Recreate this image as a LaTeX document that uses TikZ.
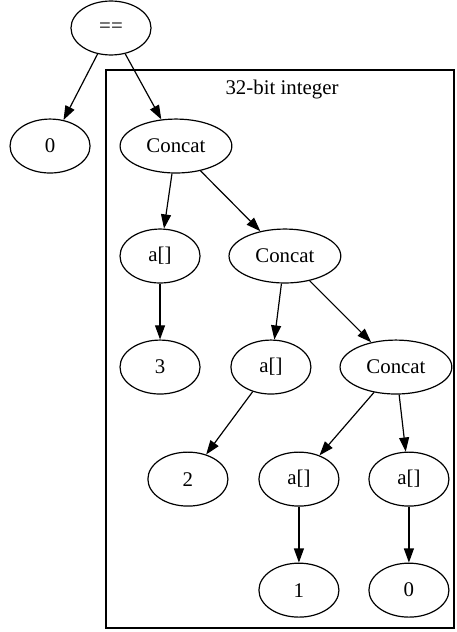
\documentclass[tikz,border=0pt]{standalone}
\usepackage{fontspec}
\setmainfont{Liberation Serif}
\usetikzlibrary{arrows.meta,positioning,shapes.geometric}

\begin{document}
\begin{tikzpicture}[x=0.671pt, y=-0.671pt, on grid, line width=0.8pt,
    >={Triangle[length=9.5pt,width=6.7pt]},
    font=\fontsize{14}{16}\selectfont,
    term/.style={ellipse, draw, minimum width=53.7pt, minimum height=36.2pt, inner sep=0pt},
    concat/.style={term, minimum width=75pt}]
  \useasboundingbox (0,0) rectangle (456,632);

  % cluster
  \draw (106,70) rectangle (454,628);
  \node[anchor=base] (lbl) at (282,94) {32-bit integer};

  \node[term]   (eq)    at (111,28)                              {==};
  \node[term]   (zl)    [below left=79.2pt and 40.9pt of eq]     {0};
  \node[concat] (cat1)  [below right=79.2pt and 43.6pt of eq]    {Concat};
  \node[term]   (a1)    [below left=73.8pt and 10.7pt of cat1]   {a[]};
  \node[concat] (cat2)  [below right=73.8pt and 73.1pt of cat1]  {Concat};
  \node[term]   (three) [below=74.5pt of a1]                     {3};
  \node[term]   (a2)    [below left=74.5pt and 9.4pt of cat2]    {a[]};
  \node[concat] (cat3)  [below right=74.5pt and 74.5pt of cat2]  {Concat};
  \node[term]   (two)   [below left=75.2pt and 55.7pt of a2]     {2};
  \node[term]   (a3)    [below left=75.2pt and 65.1pt of cat3]   {a[]};
  \node[term]   (a4)    [below right=75.2pt and 8.7pt of cat3]   {a[]};
  \node[term]   (one)   [below=74.5pt of a3]                     {1};
  \node[term]   (zr)    [below=74.5pt of a4]                     {0};

  \path[->]
        (eq)   edge (zl)
               edge (cat1)
        (cat1) edge (a1)
               edge (cat2)
        (a1)   edge (three)
        (cat2) edge (a2)
               edge (cat3)
        (a2)   edge (two)
        (cat3) edge (a3)
               edge (a4)
        (a3)   edge (one)
        (a4)   edge (zr)
    ;
\end{tikzpicture}
\end{document}
